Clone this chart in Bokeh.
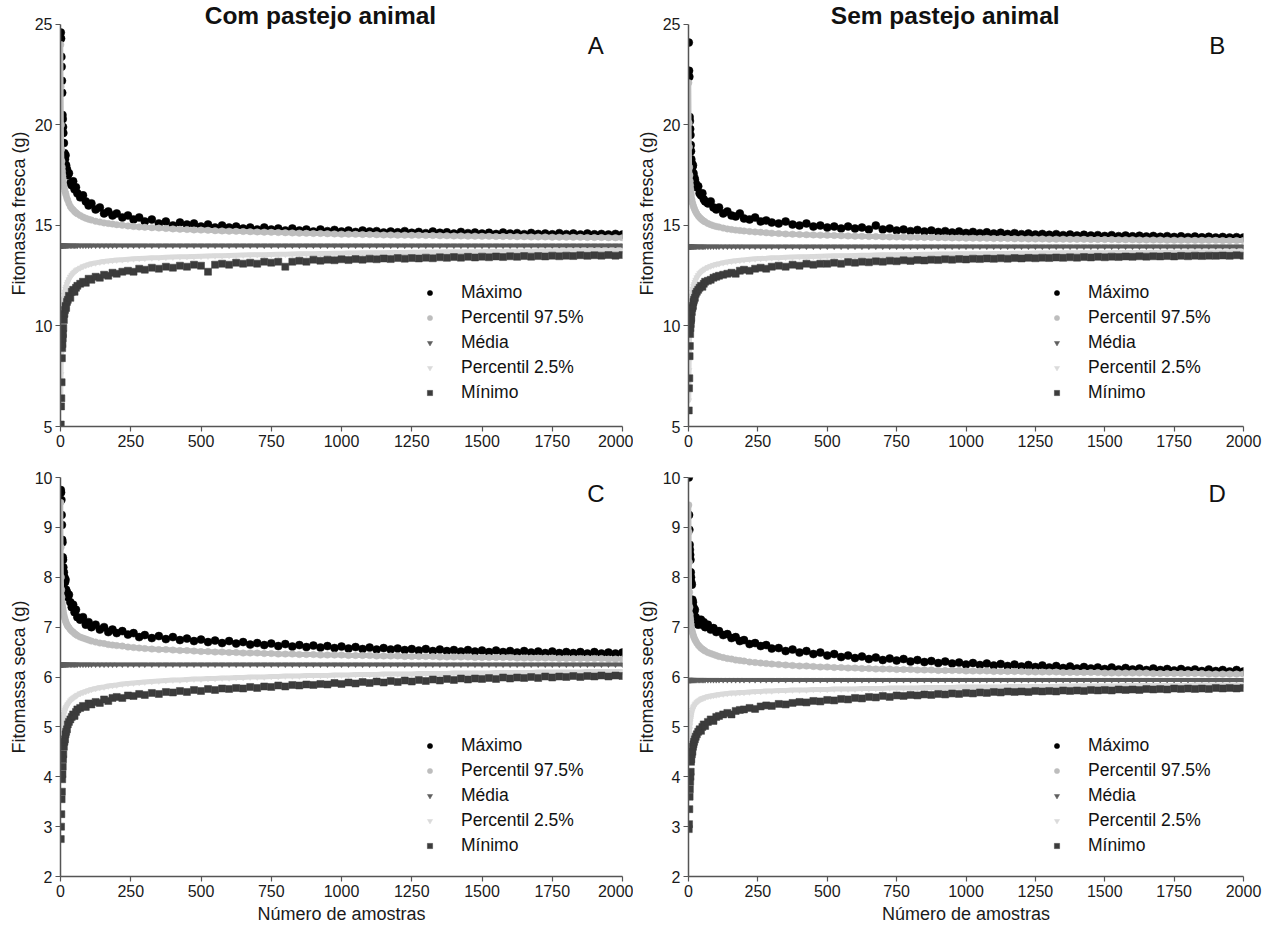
from bokeh.plotting import figure
from bokeh.models import Label, Legend, LegendItem, Range1d, FixedTicker, ColumnDataSource
from bokeh.layouts import row, column
from bokeh.embed import file_html
from bokeh.resources import INLINE

FONT = "Liberation Sans"

# ---------------- data ----------------
XS = [1, 2, 3, 4, 5, 6, 7, 8, 9, 10,
      12, 14, 16, 18, 20, 23, 26, 30, 35, 40,
      45, 50, 55, 60, 70, 80, 90, 100, 110, 125,
      140, 155, 170, 185, 200, 220, 240, 260, 280, 300,
      325, 350, 375, 400, 425, 450, 475, 500, 525, 550,
      575, 600, 625, 650, 675, 700, 725, 750, 775, 800,
      825, 850, 875, 900, 925, 950, 975, 1000, 1025, 1050,
      1075, 1100, 1125, 1150, 1175, 1200, 1225, 1250, 1275, 1300,
      1325, 1350, 1375, 1400, 1425, 1450, 1475, 1500, 1525, 1550,
      1575, 1600, 1625, 1650, 1675, 1700, 1725, 1750, 1775, 1800,
      1825, 1850, 1875, 1900, 1925, 1950, 1975, 2000]

SERIES_NAMES = ["Máximo", "Percentil 97.5%", "Média", "Percentil 2.5%", "Mínimo"]

# Panel A: Fitomassa fresca, com pastejo animal
A_MAX = [24.6, 24.3, 23.4, 22.9, 22.2, 21.6, 20.5, 20.3, 19.9, 19.6,
         19.1, 18.6, 18.3, 18.5, 18.0, 17.8, 17.5, 17.6, 17.1, 17.0,
         17.2, 16.8, 16.9, 16.6, 16.4, 16.5, 16.2, 16.0, 16.1, 15.8,
         15.9, 15.6, 15.7, 15.5, 15.6, 15.4, 15.5, 15.3, 15.4, 15.2,
         15.3, 15.1, 15.2, 15.0, 15.15, 15.05, 15.1, 14.95, 15.05, 14.9,
         15.0, 14.9, 14.95, 14.85, 14.9, 14.8, 14.9, 14.8, 14.85, 14.75,
         14.85, 14.75, 14.8, 14.7, 14.8, 14.72, 14.78, 14.7, 14.75, 14.68,
         14.75, 14.7, 14.72, 14.65, 14.7, 14.66, 14.72, 14.64, 14.68, 14.62,
         14.7, 14.64, 14.66, 14.6, 14.68, 14.62, 14.65, 14.6, 14.64, 14.58,
         14.65, 14.6, 14.62, 14.57, 14.63, 14.58, 14.6, 14.56, 14.62, 14.57,
         14.6, 14.55, 14.6, 14.56, 14.58, 14.55, 14.58, 14.55]
A_P975 = [24.0, 21.9, 20.0, 18.8, 18.2, 17.9, 17.7, 17.5, 17.35, 17.2,
          17.0, 16.85, 16.7, 16.6, 16.5, 16.35, 16.25, 16.1, 15.95, 15.85,
          15.78, 15.7, 15.64, 15.58, 15.5, 15.42, 15.36, 15.31, 15.27, 15.21,
          15.17, 15.13, 15.1, 15.07, 15.04, 15.01, 14.98, 14.95, 14.93, 14.91,
          14.89, 14.87, 14.85, 14.83, 14.81, 14.8, 14.78, 14.77, 14.76, 14.74,
          14.73, 14.72, 14.71, 14.7, 14.69, 14.68, 14.67, 14.66, 14.65, 14.64,
          14.63, 14.62, 14.61, 14.6, 14.6, 14.59, 14.58, 14.57, 14.57, 14.56,
          14.55, 14.55, 14.54, 14.53, 14.53, 14.52, 14.52, 14.51, 14.51, 14.5,
          14.5, 14.49, 14.49, 14.48, 14.48, 14.47, 14.47, 14.46, 14.46, 14.45,
          14.45, 14.45, 14.44, 14.44, 14.43, 14.43, 14.43, 14.42, 14.42, 14.42,
          14.41, 14.41, 14.4, 14.4, 14.4, 14.39, 14.39, 14.39]
A_MEAN = [14.0, 14.0, 14.0, 14.0, 14.0, 14.0, 14.0, 14.0, 14.0, 14.0,
          14.0, 14.0, 14.0, 14.0, 14.0, 14.0, 14.0, 14.0, 14.0, 14.0,
          14.0, 14.0, 14.0, 14.0, 14.0, 14.0, 14.0, 14.0, 14.0, 14.0,
          14.0, 14.0, 14.0, 14.0, 14.0, 14.0, 14.0, 14.0, 14.0, 14.0,
          14.0, 14.0, 14.0, 14.0, 14.0, 14.0, 14.0, 14.0, 14.0, 14.0,
          14.0, 14.0, 14.0, 14.0, 14.0, 14.0, 14.0, 14.0, 14.0, 14.0,
          14.0, 14.0, 14.0, 14.0, 14.0, 14.0, 14.0, 14.0, 14.0, 14.0,
          14.0, 14.0, 14.0, 14.0, 14.0, 14.0, 14.0, 14.0, 14.0, 14.0,
          14.0, 14.0, 14.0, 14.0, 14.0, 14.0, 14.0, 14.0, 14.0, 14.0,
          14.0, 14.0, 14.0, 14.0, 14.0, 14.0, 14.0, 14.0, 14.0, 14.0,
          14.0, 14.0, 14.0, 14.0, 14.0, 14.0, 14.0, 14.0]
A_P025 = [6.3, 7.6, 8.6, 9.3, 9.8, 10.2, 10.5, 10.75, 10.95, 11.1,
          11.35, 11.55, 11.7, 11.85, 11.95, 12.1, 12.2, 12.32, 12.45, 12.55,
          12.63, 12.7, 12.76, 12.81, 12.89, 12.96, 13.01, 13.06, 13.1, 13.14,
          13.18, 13.21, 13.24, 13.26, 13.28, 13.3, 13.32, 13.34, 13.36, 13.37,
          13.39, 13.4, 13.42, 13.43, 13.44, 13.45, 13.46, 13.47, 13.48, 13.49,
          13.5, 13.51, 13.52, 13.53, 13.54, 13.55, 13.55, 13.56, 13.57, 13.57,
          13.58, 13.59, 13.59, 13.6, 13.61, 13.61, 13.62, 13.62, 13.63, 13.63,
          13.64, 13.64, 13.65, 13.65, 13.66, 13.66, 13.66, 13.67, 13.67, 13.68,
          13.68, 13.68, 13.69, 13.69, 13.69, 13.7, 13.7, 13.7, 13.71, 13.71,
          13.71, 13.72, 13.72, 13.72, 13.72, 13.73, 13.73, 13.73, 13.74, 13.74,
          13.74, 13.74, 13.75, 13.75, 13.75, 13.75, 13.76, 13.76]
A_MIN = [5.1, 6.0, 6.4, 7.2, 8.4, 8.9, 9.1, 9.4, 9.6, 9.9,
         10.3, 10.6, 10.8, 11.0, 10.9, 11.2, 11.3, 11.5, 11.4, 11.7,
         11.8, 11.7, 11.9, 12.0, 12.1, 12.2, 12.15, 12.35, 12.3, 12.45,
         12.4, 12.55, 12.5, 12.65, 12.6, 12.7, 12.75, 12.7, 12.85, 12.8,
         12.9, 12.85, 12.95, 12.9, 13.0, 12.95, 13.05, 13.0, 12.7, 13.05,
         13.1, 13.05, 13.15, 13.1, 13.15, 13.1, 13.2, 13.15, 13.2, 12.95,
         13.2, 13.25, 13.2, 13.3, 13.25, 13.3, 13.27, 13.32, 13.28, 13.33,
         13.3, 13.35, 13.32, 13.36, 13.33, 13.38, 13.35, 13.38, 13.36, 13.4,
         13.37, 13.42, 13.39, 13.43, 13.4, 13.44, 13.41, 13.45, 13.42, 13.46,
         13.43, 13.47, 13.44, 13.48, 13.45, 13.48, 13.46, 13.5, 13.47, 13.5,
         13.48, 13.52, 13.49, 13.52, 13.5, 13.53, 13.5, 13.53]

# Panel B: Fitomassa fresca, sem pastejo animal
B_MAX = [24.1, 22.7, 22.4, 20.4, 20.2, 19.8, 19.5, 19.0, 18.7, 18.3,
         18.1, 17.9, 18.0, 17.6, 17.4, 17.3, 17.1, 16.9, 16.95, 16.6,
         16.5, 16.6, 16.3, 16.2, 16.1, 16.2, 15.9, 15.8, 15.9, 15.6,
         15.7, 15.5, 15.45, 15.6, 15.35, 15.3, 15.4, 15.2, 15.25, 15.15,
         15.1, 15.2, 15.05, 15.0, 15.1, 14.95, 15.0, 14.9, 14.95, 14.85,
         14.95, 14.85, 14.9, 14.8, 15.0, 14.8, 14.85, 14.75, 14.8, 14.72,
         14.78, 14.7, 14.75, 14.68, 14.72, 14.65, 14.7, 14.63, 14.68, 14.62,
         14.66, 14.6, 14.64, 14.58, 14.62, 14.57, 14.6, 14.55, 14.58, 14.54,
         14.57, 14.52, 14.55, 14.5, 14.54, 14.5, 14.52, 14.48, 14.52, 14.47,
         14.5, 14.46, 14.49, 14.45, 14.48, 14.44, 14.47, 14.43, 14.46, 14.42,
         14.45, 14.41, 14.44, 14.4, 14.43, 14.4, 14.42, 14.4]
B_P975 = [22.1, 20.1, 18.9, 17.9, 17.5, 17.2, 17.0, 16.8, 16.65, 16.5,
          16.3, 16.15, 16.05, 15.95, 15.87, 15.77, 15.68, 15.58, 15.48, 15.4,
          15.33, 15.27, 15.22, 15.18, 15.1, 15.04, 14.99, 14.95, 14.92, 14.87,
          14.83, 14.8, 14.77, 14.75, 14.73, 14.7, 14.68, 14.66, 14.64, 14.62,
          14.6, 14.58, 14.57, 14.55, 14.54, 14.53, 14.52, 14.51, 14.5, 14.49,
          14.48, 14.47, 14.46, 14.45, 14.45, 14.44, 14.43, 14.43, 14.42, 14.41,
          14.41, 14.4, 14.4, 14.39, 14.39, 14.38, 14.38, 14.37, 14.37, 14.36,
          14.36, 14.35, 14.35, 14.35, 14.34, 14.34, 14.33, 14.33, 14.33, 14.32,
          14.32, 14.32, 14.31, 14.31, 14.31, 14.3, 14.3, 14.3, 14.3, 14.29,
          14.29, 14.29, 14.28, 14.28, 14.28, 14.28, 14.27, 14.27, 14.27, 14.27,
          14.26, 14.26, 14.26, 14.26, 14.25, 14.25, 14.25, 14.25]
B_MEAN = [13.95, 13.95, 13.95, 13.95, 13.95, 13.95, 13.95, 13.95, 13.95, 13.95,
          13.95, 13.95, 13.95, 13.95, 13.95, 13.95, 13.95, 13.95, 13.95, 13.95,
          13.95, 13.95, 13.95, 13.95, 13.95, 13.95, 13.95, 13.95, 13.95, 13.95,
          13.95, 13.95, 13.95, 13.95, 13.95, 13.95, 13.95, 13.95, 13.95, 13.95,
          13.95, 13.95, 13.95, 13.95, 13.95, 13.95, 13.95, 13.95, 13.95, 13.95,
          13.95, 13.95, 13.95, 13.95, 13.95, 13.95, 13.95, 13.95, 13.95, 13.95,
          13.95, 13.95, 13.95, 13.95, 13.95, 13.95, 13.95, 13.95, 13.95, 13.95,
          13.95, 13.95, 13.95, 13.95, 13.95, 13.95, 13.95, 13.95, 13.95, 13.95,
          13.95, 13.95, 13.95, 13.95, 13.95, 13.95, 13.95, 13.95, 13.95, 13.95,
          13.95, 13.95, 13.95, 13.95, 13.95, 13.95, 13.95, 13.95, 13.95, 13.95,
          13.95, 13.95, 13.95, 13.95, 13.95, 13.95, 13.95, 13.95]
B_P025 = [6.3, 7.8, 8.8, 9.5, 10.0, 10.35, 10.65, 10.9, 11.1, 11.25,
          11.5, 11.7, 11.85, 11.98, 12.08, 12.2, 12.3, 12.42, 12.53, 12.62,
          12.69, 12.75, 12.8, 12.85, 12.92, 12.98, 13.03, 13.07, 13.1, 13.15,
          13.19, 13.22, 13.25, 13.27, 13.29, 13.32, 13.34, 13.36, 13.37, 13.39,
          13.4, 13.42, 13.43, 13.44, 13.45, 13.46, 13.47, 13.48, 13.49, 13.5,
          13.5, 13.51, 13.52, 13.52, 13.53, 13.54, 13.54, 13.55, 13.55, 13.56,
          13.56, 13.57, 13.57, 13.58, 13.58, 13.58, 13.59, 13.59, 13.6, 13.6,
          13.6, 13.61, 13.61, 13.61, 13.62, 13.62, 13.62, 13.63, 13.63, 13.63,
          13.63, 13.64, 13.64, 13.64, 13.64, 13.65, 13.65, 13.65, 13.65, 13.66,
          13.66, 13.66, 13.66, 13.66, 13.67, 13.67, 13.67, 13.67, 13.67, 13.68,
          13.68, 13.68, 13.68, 13.68, 13.68, 13.69, 13.69, 13.69]
B_MIN = [5.8, 6.9, 7.4, 8.5, 9.0, 9.6, 9.9, 10.1, 10.3, 10.4,
         10.7, 10.9, 11.0, 11.2, 11.3, 11.4, 11.6, 11.7, 11.8, 11.9,
         12.0, 11.95, 12.1, 12.2, 12.25, 12.3, 12.4, 12.45, 12.5, 12.55,
         12.6, 12.65, 12.6, 12.75, 12.8, 12.75, 12.85, 12.9, 12.85, 12.95,
         13.0, 12.95, 13.05, 13.0, 13.1, 13.05, 13.1, 13.1, 13.15, 13.1,
         13.18, 13.15, 13.2, 13.17, 13.22, 13.2, 13.25, 13.22, 13.27, 13.24,
         13.28, 13.26, 13.3, 13.28, 13.32, 13.3, 13.33, 13.31, 13.35, 13.33,
         13.36, 13.34, 13.37, 13.35, 13.38, 13.36, 13.39, 13.37, 13.4, 13.38,
         13.41, 13.39, 13.42, 13.4, 13.43, 13.41, 13.44, 13.42, 13.45, 13.43,
         13.46, 13.44, 13.47, 13.45, 13.47, 13.46, 13.48, 13.46, 13.49, 13.47,
         13.5, 13.48, 13.5, 13.49, 13.51, 13.49, 13.52, 13.5]

# Panel C: Fitomassa seca, com pastejo animal
C_MAX = [9.75, 9.7, 9.55, 9.25, 9.05, 8.75, 8.7, 8.4, 8.35, 8.2,
         8.1, 8.0, 7.9, 7.95, 7.75, 7.7, 7.6, 7.65, 7.5, 7.4,
         7.45, 7.3, 7.35, 7.2, 7.15, 7.2, 7.05, 7.1, 7.0, 7.05,
         6.95, 7.0, 6.9, 6.95, 6.88, 6.92, 6.85, 6.88, 6.8, 6.84,
         6.78, 6.82, 6.76, 6.8, 6.74, 6.77, 6.72, 6.75, 6.7, 6.73,
         6.68, 6.72, 6.67, 6.7, 6.65, 6.68, 6.64, 6.67, 6.62, 6.66,
         6.61, 6.64, 6.6, 6.63, 6.59, 6.62, 6.58, 6.61, 6.57, 6.6,
         6.56, 6.59, 6.55, 6.58, 6.55, 6.57, 6.54, 6.56, 6.53, 6.56,
         6.52, 6.55, 6.52, 6.54, 6.51, 6.54, 6.51, 6.53, 6.5, 6.53,
         6.5, 6.52, 6.49, 6.52, 6.49, 6.51, 6.48, 6.51, 6.48, 6.5,
         6.48, 6.5, 6.47, 6.5, 6.47, 6.49, 6.47, 6.49]
C_P975 = [9.5, 8.6, 8.0, 7.75, 7.6, 7.5, 7.43, 7.38, 7.34, 7.3,
          7.25, 7.2, 7.16, 7.12, 7.09, 7.05, 7.02, 6.99, 6.95, 6.92,
          6.9, 6.87, 6.85, 6.83, 6.8, 6.78, 6.76, 6.74, 6.72, 6.7,
          6.68, 6.67, 6.65, 6.64, 6.63, 6.62, 6.6, 6.59, 6.58, 6.57,
          6.56, 6.55, 6.55, 6.54, 6.53, 6.53, 6.52, 6.51, 6.51, 6.5,
          6.5, 6.49, 6.49, 6.48, 6.48, 6.48, 6.47, 6.47, 6.46, 6.46,
          6.46, 6.45, 6.45, 6.45, 6.44, 6.44, 6.44, 6.44, 6.43, 6.43,
          6.43, 6.43, 6.42, 6.42, 6.42, 6.42, 6.41, 6.41, 6.41, 6.41,
          6.41, 6.4, 6.4, 6.4, 6.4, 6.4, 6.39, 6.39, 6.39, 6.39,
          6.39, 6.39, 6.38, 6.38, 6.38, 6.38, 6.38, 6.38, 6.37, 6.37,
          6.37, 6.37, 6.37, 6.37, 6.37, 6.36, 6.36, 6.36]
C_MEAN = [6.25, 6.25, 6.25, 6.25, 6.25, 6.25, 6.25, 6.25, 6.25, 6.25,
          6.25, 6.25, 6.25, 6.25, 6.25, 6.25, 6.25, 6.25, 6.25, 6.25,
          6.25, 6.25, 6.25, 6.25, 6.25, 6.25, 6.25, 6.25, 6.25, 6.25,
          6.25, 6.25, 6.25, 6.25, 6.25, 6.25, 6.25, 6.25, 6.25, 6.25,
          6.25, 6.25, 6.25, 6.25, 6.25, 6.25, 6.25, 6.25, 6.25, 6.25,
          6.25, 6.25, 6.25, 6.25, 6.25, 6.25, 6.25, 6.25, 6.25, 6.25,
          6.25, 6.25, 6.25, 6.25, 6.25, 6.25, 6.25, 6.25, 6.25, 6.25,
          6.25, 6.25, 6.25, 6.25, 6.25, 6.25, 6.25, 6.25, 6.25, 6.25,
          6.25, 6.25, 6.25, 6.25, 6.25, 6.25, 6.25, 6.25, 6.25, 6.25,
          6.25, 6.25, 6.25, 6.25, 6.25, 6.25, 6.25, 6.25, 6.25, 6.25,
          6.25, 6.25, 6.25, 6.25, 6.25, 6.25, 6.25, 6.25]
C_P025 = [4.2, 4.5, 4.7, 4.85, 4.95, 5.02, 5.08, 5.13, 5.17, 5.2,
          5.26, 5.3, 5.34, 5.37, 5.4, 5.43, 5.46, 5.49, 5.53, 5.56,
          5.58, 5.6, 5.62, 5.64, 5.67, 5.69, 5.71, 5.73, 5.75, 5.77,
          5.79, 5.8, 5.82, 5.83, 5.84, 5.86, 5.87, 5.88, 5.89, 5.9,
          5.91, 5.92, 5.93, 5.94, 5.94, 5.95, 5.96, 5.96, 5.97, 5.97,
          5.98, 5.98, 5.99, 5.99, 6.0, 6.0, 6.0, 6.01, 6.01, 6.02,
          6.02, 6.02, 6.03, 6.03, 6.03, 6.03, 6.04, 6.04, 6.04, 6.05,
          6.05, 6.05, 6.05, 6.06, 6.06, 6.06, 6.06, 6.06, 6.07, 6.07,
          6.07, 6.07, 6.07, 6.08, 6.08, 6.08, 6.08, 6.08, 6.08, 6.09,
          6.09, 6.09, 6.09, 6.09, 6.09, 6.1, 6.1, 6.1, 6.1, 6.1,
          6.1, 6.1, 6.11, 6.11, 6.11, 6.11, 6.11, 6.11]
C_MIN = [2.75, 3.0, 3.25, 3.55, 3.7, 3.95, 4.05, 4.2, 4.35, 4.45,
         4.6, 4.7, 4.75, 4.85, 4.9, 4.95, 5.05, 5.1, 5.15, 5.2,
         5.25, 5.22, 5.3, 5.35, 5.38, 5.42, 5.4, 5.47, 5.45, 5.5,
         5.48, 5.55, 5.52, 5.58, 5.6, 5.58, 5.63, 5.62, 5.66, 5.64,
         5.68, 5.66, 5.7, 5.69, 5.72, 5.7, 5.74, 5.72, 5.76, 5.74,
         5.77, 5.76, 5.78, 5.77, 5.8, 5.78, 5.81, 5.8, 5.83, 5.81,
         5.84, 5.83, 5.85, 5.84, 5.86, 5.85, 5.88, 5.86, 5.89, 5.87,
         5.9, 5.88, 5.91, 5.89, 5.92, 5.9, 5.93, 5.91, 5.94, 5.92,
         5.95, 5.93, 5.96, 5.94, 5.97, 5.95, 5.97, 5.96, 5.98, 5.96,
         5.99, 5.97, 5.99, 5.98, 6.0, 5.98, 6.01, 5.99, 6.01, 6.0,
         6.02, 6.0, 6.02, 6.01, 6.03, 6.01, 6.03, 6.02]

# Panel D: Fitomassa seca, sem pastejo animal
D_MAX = [10.0, 9.25, 8.95, 8.65, 8.55, 8.45, 8.35, 8.1, 8.0, 7.9,
         7.85, 7.55, 7.5, 7.4, 7.3, 7.35, 7.2, 7.15, 7.05, 7.1,
         7.15, 7.05, 7.1, 7.0, 7.05, 6.95, 6.98, 6.9, 6.92, 6.84,
         6.86, 6.78, 6.8, 6.72, 6.74, 6.66, 6.68, 6.62, 6.64, 6.57,
         6.58, 6.52, 6.55, 6.49, 6.52, 6.46, 6.49, 6.43, 6.46, 6.4,
         6.43, 6.38, 6.41, 6.36, 6.39, 6.34, 6.37, 6.33, 6.36, 6.31,
         6.34, 6.3, 6.32, 6.28, 6.31, 6.27, 6.29, 6.25, 6.28, 6.24,
         6.27, 6.23, 6.26, 6.22, 6.25, 6.21, 6.24, 6.2, 6.23, 6.19,
         6.22, 6.18, 6.21, 6.17, 6.2, 6.17, 6.19, 6.16, 6.19, 6.15,
         6.18, 6.15, 6.17, 6.14, 6.17, 6.14, 6.16, 6.13, 6.16, 6.13,
         6.15, 6.12, 6.15, 6.12, 6.14, 6.11, 6.14, 6.11]
D_P975 = [9.45, 8.9, 8.3, 7.7, 7.4, 7.25, 7.18, 7.12, 7.06, 7.0,
          6.95, 6.9, 6.86, 6.82, 6.79, 6.75, 6.72, 6.68, 6.64, 6.61,
          6.58, 6.56, 6.54, 6.52, 6.49, 6.47, 6.45, 6.43, 6.41, 6.39,
          6.37, 6.36, 6.34, 6.33, 6.32, 6.3, 6.29, 6.28, 6.27, 6.26,
          6.25, 6.24, 6.23, 6.22, 6.22, 6.21, 6.2, 6.2, 6.19, 6.19,
          6.18, 6.18, 6.17, 6.17, 6.16, 6.16, 6.16, 6.15, 6.15, 6.15,
          6.14, 6.14, 6.14, 6.13, 6.13, 6.13, 6.13, 6.12, 6.12, 6.12,
          6.12, 6.11, 6.11, 6.11, 6.11, 6.11, 6.1, 6.1, 6.1, 6.1,
          6.1, 6.09, 6.09, 6.09, 6.09, 6.09, 6.09, 6.08, 6.08, 6.08,
          6.08, 6.08, 6.08, 6.08, 6.07, 6.07, 6.07, 6.07, 6.07, 6.07,
          6.07, 6.07, 6.06, 6.06, 6.06, 6.06, 6.06, 6.06]
D_MEAN = [5.94, 5.94, 5.94, 5.94, 5.94, 5.94, 5.94, 5.94, 5.94, 5.94,
          5.94, 5.94, 5.94, 5.94, 5.94, 5.94, 5.94, 5.94, 5.94, 5.94,
          5.94, 5.94, 5.94, 5.94, 5.94, 5.94, 5.94, 5.94, 5.94, 5.94,
          5.94, 5.94, 5.94, 5.94, 5.94, 5.94, 5.94, 5.94, 5.94, 5.94,
          5.94, 5.94, 5.94, 5.94, 5.94, 5.94, 5.94, 5.94, 5.94, 5.94,
          5.94, 5.94, 5.94, 5.94, 5.94, 5.94, 5.94, 5.94, 5.94, 5.94,
          5.94, 5.94, 5.94, 5.94, 5.94, 5.94, 5.94, 5.94, 5.94, 5.94,
          5.94, 5.94, 5.94, 5.94, 5.94, 5.94, 5.94, 5.94, 5.94, 5.94,
          5.94, 5.94, 5.94, 5.94, 5.94, 5.94, 5.94, 5.94, 5.94, 5.94,
          5.94, 5.94, 5.94, 5.94, 5.94, 5.94, 5.94, 5.94, 5.94, 5.94,
          5.94, 5.94, 5.94, 5.94, 5.94, 5.94, 5.94, 5.94]
D_P025 = [4.4, 4.7, 4.85, 4.95, 5.03, 5.09, 5.14, 5.18, 5.22, 5.25,
          5.3, 5.34, 5.37, 5.4, 5.42, 5.45, 5.47, 5.5, 5.52, 5.54,
          5.56, 5.57, 5.58, 5.59, 5.61, 5.62, 5.63, 5.64, 5.65, 5.66,
          5.67, 5.68, 5.68, 5.69, 5.69, 5.7, 5.71, 5.71, 5.72, 5.72,
          5.73, 5.73, 5.74, 5.74, 5.74, 5.75, 5.75, 5.75, 5.76, 5.76,
          5.76, 5.76, 5.77, 5.77, 5.77, 5.77, 5.78, 5.78, 5.78, 5.78,
          5.78, 5.79, 5.79, 5.79, 5.79, 5.79, 5.8, 5.8, 5.8, 5.8,
          5.8, 5.8, 5.8, 5.81, 5.81, 5.81, 5.81, 5.81, 5.81, 5.81,
          5.81, 5.82, 5.82, 5.82, 5.82, 5.82, 5.82, 5.82, 5.82, 5.82,
          5.83, 5.83, 5.83, 5.83, 5.83, 5.83, 5.83, 5.83, 5.83, 5.83,
          5.84, 5.84, 5.84, 5.84, 5.84, 5.84, 5.84, 5.84]
D_MIN = [2.95, 3.05, 3.35, 3.6, 3.75, 3.9, 4.0, 4.1, 4.3, 4.35,
         4.45, 4.5, 4.6, 4.65, 4.7, 4.75, 4.8, 4.85, 4.9, 4.95,
         4.92, 5.0, 5.05, 5.02, 5.1, 5.15, 5.12, 5.2, 5.22, 5.25,
         5.28, 5.25, 5.32, 5.34, 5.35, 5.38, 5.36, 5.41, 5.43, 5.42,
         5.46, 5.45, 5.48, 5.5, 5.49, 5.52, 5.51, 5.54, 5.53, 5.56,
         5.55, 5.58, 5.57, 5.6, 5.59, 5.62, 5.6, 5.63, 5.62, 5.64,
         5.63, 5.65, 5.64, 5.66, 5.65, 5.67, 5.66, 5.68, 5.67, 5.69,
         5.68, 5.7, 5.69, 5.71, 5.7, 5.71, 5.7, 5.72, 5.71, 5.72,
         5.71, 5.73, 5.72, 5.73, 5.72, 5.74, 5.73, 5.74, 5.73, 5.75,
         5.74, 5.75, 5.74, 5.76, 5.75, 5.76, 5.75, 5.77, 5.76, 5.77,
         5.76, 5.77, 5.76, 5.78, 5.77, 5.78, 5.77, 5.78]

X_TICKS = [0, 250, 500, 750, 1000, 1250, 1500, 1750, 2000]
Y_TICKS_FRESCA = [5, 10, 15, 20, 25]
Y_TICKS_SECA = [2, 3, 4, 5, 6, 7, 8, 9, 10]

# ---------------- styling ----------------
# marker, colour, marker size, width of the connecting band (0 = none)
STYLES = [
    dict(marker="circle", color="#000000", size=8.0, band=0),              # Máximo
    dict(marker="circle", color="#bdbdbd", size=6.5, band=5),              # Percentil 97.5%
    dict(marker="inverted_triangle", color="#5e5e5e", size=5.5, band=4),   # Média
    dict(marker="inverted_triangle", color="#dadada", size=6.0, band=5),   # Percentil 2.5%
    dict(marker="square", color="#3c3c3c", size=7.0, band=0),              # Mínimo
]
AXIS_COLOR = "#555555"


def make_panel(series, y_range, y_bounds, y_ticks, y_label, x_label, letter, letter_y,
               title, title_y, size, border, legend_loc):
    w, h = size
    ml, mr, mt, mb = border
    p = figure(width=w, height=h,
               min_border_left=ml, min_border_right=mr,
               min_border_top=mt, min_border_bottom=mb,
               x_range=Range1d(0, 2000), y_range=Range1d(*y_range),
               output_backend="svg", toolbar_location=None,
               background_fill_color="white", border_fill_color="white")
    p.outline_line_color = None
    p.grid.visible = False

    items = []
    for name, ys, st in zip(SERIES_NAMES, series, STYLES):
        assert len(ys) == len(XS), (name, len(ys))
        src = ColumnDataSource(dict(x=XS, y=ys))
        if st["band"]:
            p.line("x", "y", source=src, line_color=st["color"], line_width=st["band"],
                   line_join="round", line_cap="round")
        r = p.scatter("x", "y", source=src, marker=st["marker"], size=st["size"],
                      fill_color=st["color"], line_color=st["color"], line_width=0.5)
        items.append(LegendItem(label=name, renderers=[r]))

    leg = Legend(items=items, location=legend_loc, padding=0, margin=0, spacing=0,
                 glyph_width=13, glyph_height=25, label_height=25, label_standoff=25,
                 label_text_font=FONT, label_text_font_size="17.5px",
                 label_text_color="#111111",
                 border_line_color=None, background_fill_alpha=0)
    p.add_layout(leg)

    for ax in (p.xaxis[0], p.yaxis[0]):
        ax.axis_line_color = AXIS_COLOR
        ax.axis_line_width = 1.5
        ax.major_tick_line_color = AXIS_COLOR
        ax.major_tick_line_width = 1.2
        ax.major_tick_out = 5
        ax.major_tick_in = 0
        ax.minor_tick_out = 0
        ax.minor_tick_in = 0
        ax.major_label_text_font = FONT
        ax.major_label_text_font_size = "16px"
        ax.major_label_text_color = "#1a1a1a"
        ax.major_label_standoff = 3
        ax.axis_label_text_font = FONT
        ax.axis_label_text_font_size = "18px"
        ax.axis_label_text_font_style = "normal"
        ax.axis_label_text_color = "#1a1a1a"
    p.xaxis.axis_label_standoff = 4
    p.yaxis.axis_label_standoff = 3
    p.xaxis.ticker = FixedTicker(ticks=X_TICKS)
    p.yaxis.ticker = FixedTicker(ticks=y_ticks)
    p.yaxis.bounds = y_bounds
    p.yaxis.axis_label = y_label
    if x_label:
        p.xaxis.axis_label = x_label

    p.add_layout(Label(x=1905, y=letter_y, text=letter, text_font=FONT,
                       text_font_size="24px", text_color="#111111",
                       text_align="center", text_baseline="middle"))
    if title:
        p.add_layout(Label(x=925, y=title_y, text=title, text_font=FONT,
                           text_font_size="24.5px", text_font_style="bold",
                           text_color="#111111",
                           text_align="center", text_baseline="middle"))
    return p


# top row: the frame starts at the figure top; its y range is extended above 25 so that
# the panel titles sit inside the frame (the axis line itself stops at 25)
TOP_RANGE = (5, 26.194)
pA = make_panel([A_MAX, A_P975, A_MEAN, A_P025, A_MIN], TOP_RANGE, (5, 25), Y_TICKS_FRESCA,
                "Fitomassa fresca (g)", None, "A", 23.95,
                "Com pastejo animal", 25.45,
                (633, 462), (60, 11, 0, 36), (363, 21))
pB = make_panel([B_MAX, B_P975, B_MEAN, B_P025, B_MIN], TOP_RANGE, (5, 25), Y_TICKS_FRESCA,
                "Fitomassa fresca (g)", None, "B", 23.95,
                "Sem pastejo animal", 25.45,
                (630, 462), (52, 20, 0, 36), (362, 21))
pC = make_panel([C_MAX, C_P975, C_MEAN, C_P025, C_MIN], (2, 10), (2, 10), Y_TICKS_SECA,
                "Fitomassa seca (g)", "Número de amostras", "C", 9.68,
                None, None,
                (633, 468), (60, 11, 15, 54), (363, 18))
pD = make_panel([D_MAX, D_P975, D_MEAN, D_P025, D_MIN], (2, 10), (2, 10), Y_TICKS_SECA,
                "Fitomassa seca (g)", "Número de amostras", "D", 9.68,
                None, None,
                (630, 468), (52, 20, 15, 54), (362, 18))

layout = column(row(pA, pB), row(pC, pD))

with open("out.html", "w") as f:
    f.write(file_html(layout, INLINE))
